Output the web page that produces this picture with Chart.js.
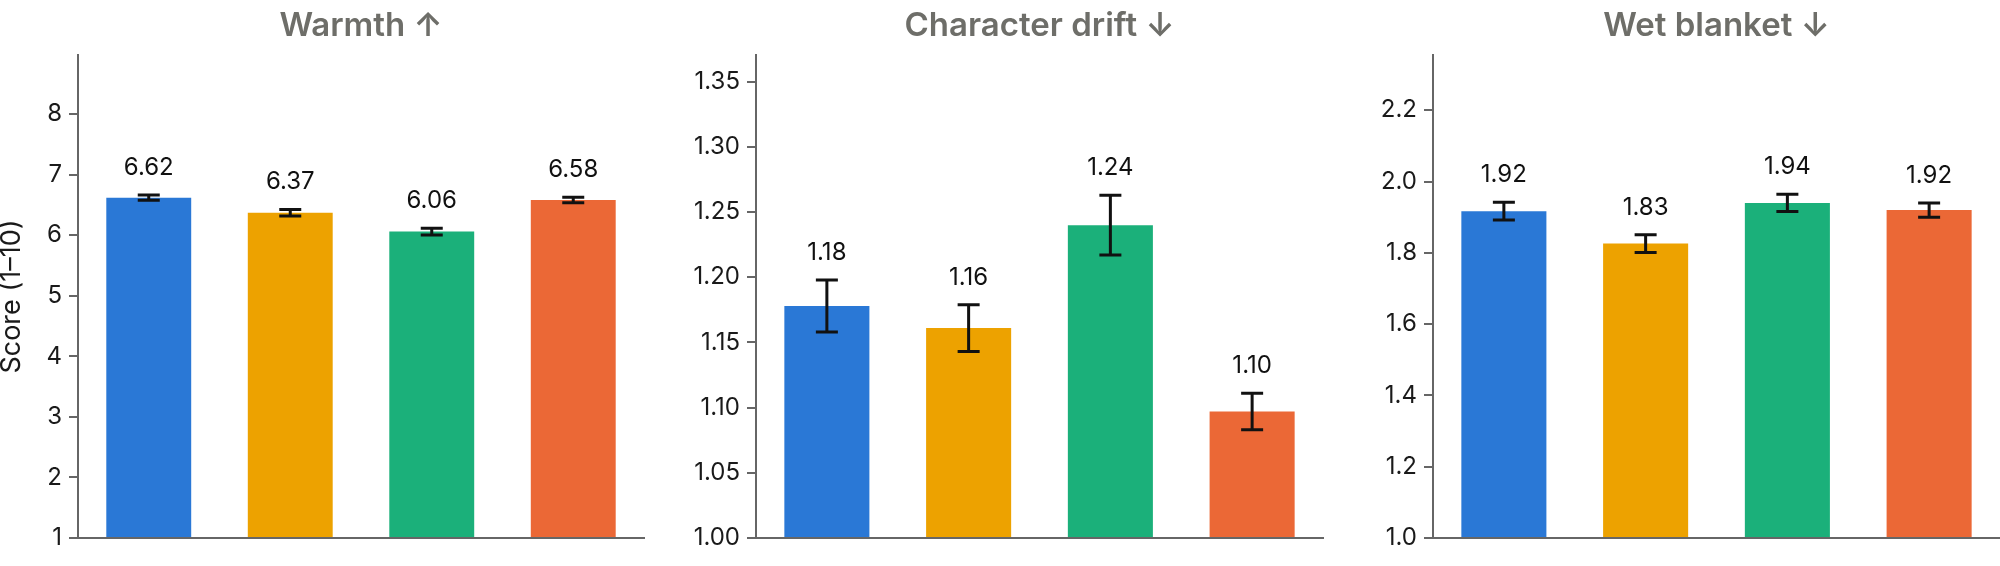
<!DOCTYPE html>
<html>
<head>
<meta charset="utf-8">
<script src="https://cdn.jsdelivr.net/npm/chart.js@4.4.1/dist/chart.umd.min.js"></script>
<style>
  html, body { margin: 0; padding: 0; background: #ffffff; }
  body { width: 2000px; height: 566px; position: relative; overflow: hidden; }
  canvas { position: absolute; top: 0; }
</style>
</head>
<body>
<canvas id="c1" width="650" height="566" style="left:0px"></canvas>
<canvas id="c2" width="650" height="566" style="left:680px"></canvas>
<canvas id="c3" width="643" height="566" style="left:1357px"></canvas>
<script>
// ---- data ----
const categories = ['Condition A', 'Condition B', 'Condition C', 'Condition D'];
const barColors = ['#2a78d6', '#eda200', '#1bb07a', '#eb6836'];

const panelTitles = ['Warmth \u2191', 'Character drift \u2193', 'Wet blanket \u2193'];

const warmthValues = [6.62, 6.37, 6.06, 6.58];
const warmthErrors = [0.045, 0.055, 0.055, 0.045];

const driftValues = [1.178, 1.161, 1.240, 1.097];
const driftErrors = [0.020, 0.018, 0.023, 0.014];

const wetValues = [1.917, 1.826, 1.940, 1.920];
const wetErrors = [0.025, 0.025, 0.024, 0.020];

const warmthTicks = [1, 2, 3, 4, 5, 6, 7, 8];
const driftTicks = [1.00, 1.05, 1.10, 1.15, 1.20, 1.25, 1.30, 1.35];
const wetTicks = [1.0, 1.2, 1.4, 1.6, 1.8, 2.0, 2.2];

const yAxisTitle = 'Score (1\u201310)';

// ---- rendering ----
Chart.defaults.font.family = 'Inter, "Noto Sans", sans-serif';
Chart.defaults.color = '#1a1a1a';

const overlayPlugin = {
  id: 'overlay',
  afterDatasetsDraw(chart, args, opts) {
    const ctx = chart.ctx;
    const xs = chart.scales.x, ys = chart.scales.y;
    const vals = opts.values, errs = opts.errors;
    ctx.save();
    ctx.strokeStyle = '#111111';
    ctx.lineWidth = 3;
    ctx.lineCap = 'butt';
    ctx.fillStyle = '#111111';
    ctx.font = '24px Inter, "Noto Sans", sans-serif';
    ctx.textAlign = 'center';
    ctx.textBaseline = 'alphabetic';
    vals.forEach((v, i) => {
      const x = xs.getPixelForValue(i);
      const yTop = ys.getPixelForValue(v + errs[i]);
      const yBot = ys.getPixelForValue(v - errs[i]);
      ctx.beginPath();
      ctx.moveTo(x, yTop); ctx.lineTo(x, yBot);
      ctx.moveTo(x - 11, yTop); ctx.lineTo(x + 11, yTop);
      ctx.moveTo(x - 11, yBot); ctx.lineTo(x + 11, yBot);
      ctx.stroke();
      ctx.fillText(v.toFixed(2), x, yTop - 20);
    });
    const a = chart.chartArea;
    ctx.fillStyle = '#6e6e69';
    ctx.font = '600 33px Inter, "Noto Sans", sans-serif';
    ctx.fillText(opts.title, (a.left + a.right) / 2, 36);
    ctx.restore();
  }
};

function makePanel(id, title, values, errors, ticks, yMax, decimals, axisWidth, padRight, showTitle) {
  return new Chart(document.getElementById(id), {
    type: 'bar',
    data: {
      labels: categories,
      datasets: [{
        data: values,
        backgroundColor: barColors,
        borderWidth: 0,
        base: ticks[0],
        barPercentage: 0.6,
        categoryPercentage: 1.0
      }]
    },
    options: {
      responsive: false,
      devicePixelRatio: 1,
      animation: false,
      events: [],
      layout: { padding: { top: 55, bottom: 28, left: 0, right: padRight } },
      plugins: {
        legend: { display: false },
        tooltip: { enabled: false },
        title: { display: false },
        overlay: { values: values, errors: errors, title: title }
      },
      scales: {
        x: {
          type: 'category',
          grid: { display: false },
          ticks: { display: false },
          border: { display: true, color: '#666666', width: 2 },
          afterFit(scale) { scale.height = 0; }
        },
        y: {
          min: ticks[0],
          max: yMax,
          afterBuildTicks(scale) { scale.ticks = ticks.map(v => ({ value: v })); },
          afterFit(scale) { scale.width = axisWidth; },
          grid: { display: true, drawOnChartArea: false, drawTicks: true, tickLength: 9, color: '#666666', lineWidth: 2 },
          border: { display: true, color: '#666666', width: 2 },
          ticks: {
            padding: 7,
            color: '#1a1a1a',
            font: { size: 24 },
            callback: (v) => Number(v).toFixed(decimals)
          },
          title: {
            display: showTitle,
            text: yAxisTitle,
            color: '#1a1a1a',
            font: { size: 27, lineHeight: 0.85 },
            padding: { top: 0, bottom: 0 }
          }
        }
      }
    },
    plugins: [overlayPlugin]
  });
}

makePanel('c1', panelTitles[0], warmthValues, warmthErrors, warmthTicks, 8.975, 0, 78, 6, true);
makePanel('c2', panelTitles[1], driftValues, driftErrors, driftTicks, 1.3705, 2, 76, 7, false);
makePanel('c3', panelTitles[2], wetValues, wetErrors, wetTicks, 2.355, 1, 76, 0, false);
</script>
</body>
</html>
